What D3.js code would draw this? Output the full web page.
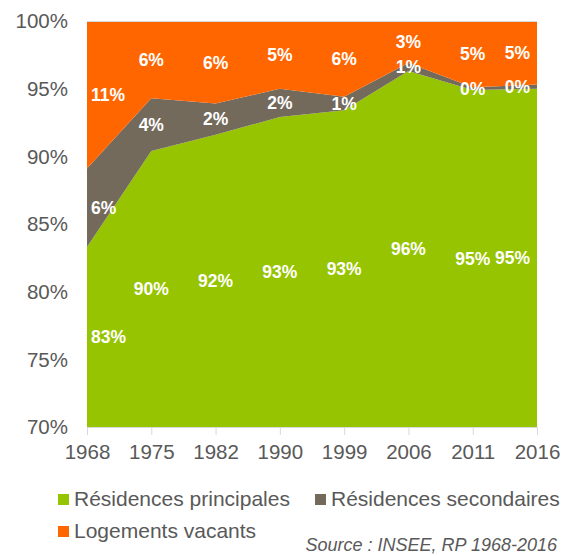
<!DOCTYPE html>
<html>
<head>
<meta charset="utf-8">
<script src="https://cdn.jsdelivr.net/npm/d3@7"></script>
<style>
  body { margin: 0; background: #fff; }
  text { font-family: "Liberation Sans", Arial, sans-serif; }
</style>
</head>
<body>
<div id="chart"></div>
<script>
// data (shares of housing, %)
const years = ["1968", "1975", "1982", "1990", "1999", "2006", "2011", "2016"];
const principales = [83.3, 90.4, 91.6, 92.9, 93.4, 96.3, 94.9, 95.0];
const secondaires = [5.8, 3.9, 2.3, 2.1, 1.0, 0.6, 0.2, 0.3];
const vacants = [10.9, 5.7, 6.1, 5.0, 5.6, 3.1, 4.9, 4.7];
const yTicks = [70, 75, 80, 85, 90, 95, 100];
const seriesNames = ["Résidences principales", "Résidences secondaires", "Logements vacants"];
const colors = ["#96c400", "#736a5c", "#ff6600"];

const width = 563, height = 556;
const keys = ["p", "s", "v"];
const rows = years.map((yr, i) => ({year: yr, p: principales[i], s: secondaires[i], v: vacants[i]}));

const x = d3.scalePoint().domain(years).range([87, 537]);
const y = d3.scaleLinear().domain([70, 100]).range([427, 21]).clamp(true);

const svg = d3.select("#chart").append("svg")
    .attr("width", width)
    .attr("height", height);

const stacked = d3.stack().keys(keys)(rows);

const area = d3.area()
    .x(d => x(d.data.year))
    .y0(d => y(d[0]))
    .y1(d => y(d[1]));

// stacked areas
svg.append("g")
    .selectAll("path")
    .data(stacked)
    .join("path")
    .attr("fill", (d, i) => colors[i])
    .attr("d", area);

// top border of plot
svg.append("line")
    .attr("x1", x.range()[0]).attr("x2", x.range()[1])
    .attr("y1", y(100) + 0.5).attr("y2", y(100) + 0.5)
    .attr("stroke", "#d9d9d9");

// x axis
const xAxis = svg.append("g")
    .attr("transform", `translate(0, ${y(70)})`)
    .call(d3.axisBottom(x).tickSize(8).tickPadding(9).tickSizeOuter(0));
xAxis.select(".domain").attr("stroke", "#d9d9d9").attr("d", `M${x.range()[0]},0.5H${x.range()[1]}`);
xAxis.selectAll(".tick line").attr("stroke", "#d9d9d9");
xAxis.selectAll(".tick text")
    .attr("fill", "#595959")
    .style("font-size", "20.5px")
    .style("font-family", "'Liberation Sans', Arial, sans-serif");

// y axis labels (no line)
svg.append("g")
    .selectAll("text")
    .data(yTicks)
    .join("text")
    .attr("x", 68)
    .attr("y", d => y(d))
    .attr("dy", "0.36em")
    .attr("text-anchor", "end")
    .attr("fill", "#595959")
    .style("font-size", "20.5px")
    .text(d => d + "%");

// data labels in middle of the visible part of each band
const yMin = y.domain()[0];
const labels = [];
stacked.forEach(layer => {
    layer.forEach((d, i) => {
        labels.push({
            i: i,
            cx: x(d.data.year),
            cy: y((Math.max(d[0], yMin) + d[1]) / 2),
            value: d[1] - d[0]
        });
    });
});

svg.append("g")
    .selectAll("text")
    .data(labels)
    .join("text")
    .attr("x", d => d.i === 0 ? d.cx + 4 : (d.i === years.length - 1 ? d.cx - 7 : d.cx))
    .attr("y", d => d.cy)
    .attr("dy", "0.36em")
    .attr("text-anchor", d => d.i === 0 ? "start" : (d.i === years.length - 1 ? "end" : "middle"))
    .attr("fill", "#fff")
    .style("font-size", "17.5px")
    .style("font-weight", "bold")
    .text(d => Math.round(d.value) + "%");

// legend
const legendPos = [[58, 494], [315, 494], [58, 526]];
const legend = svg.append("g")
    .selectAll("g")
    .data(seriesNames)
    .join("g")
    .attr("transform", (d, i) => `translate(${legendPos[i][0]}, ${legendPos[i][1]})`);

legend.append("rect")
    .attr("width", 11)
    .attr("height", 11)
    .attr("fill", (d, i) => colors[i]);

legend.append("text")
    .attr("x", 16)
    .attr("y", 12)
    .attr("fill", "#595959")
    .style("font-size", "21px")
    .text(d => d);

// source
svg.append("text")
    .attr("x", 557)
    .attr("y", 551)
    .attr("text-anchor", "end")
    .attr("fill", "#595959")
    .style("font-size", "18px")
    .style("font-style", "italic")
    .text("Source : INSEE, RP 1968-2016");
</script>
</body>
</html>
